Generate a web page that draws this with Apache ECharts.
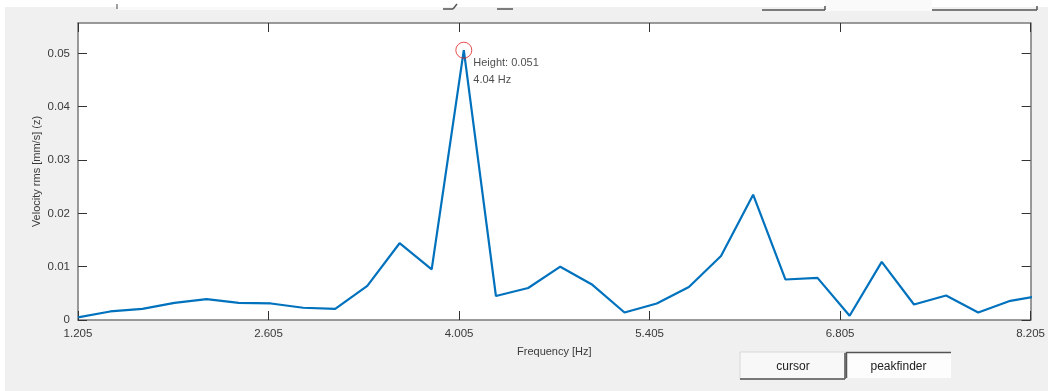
<!DOCTYPE html>
<html>
<head>
<meta charset="utf-8">
<script src="https://cdn.jsdelivr.net/npm/echarts@6/dist/echarts.min.js"></script>
<style>
html,body{margin:0;padding:0;background:#f0f0f0;}
#c{width:1048px;height:391px;}
</style>
</head>
<body>
<div id="c"></div>
<script>
// Data
const frequencies = [1.205,1.441,1.678,1.914,2.150,2.386,2.623,2.859,3.095,3.331,3.568,3.804,4.040,4.276,4.513,4.749,4.985,5.221,5.458,5.694,5.930,6.166,6.403,6.639,6.875,7.111,7.348,7.584,7.820,8.056,8.293];
const velocity = [0.0005,0.0016,0.0021,0.0032,0.0039,0.0032,0.0031,0.0023,0.0021,0.0064,0.0144,0.0095,0.0506,0.0045,0.0060,0.0100,0.0066,0.0014,0.0031,0.0062,0.0120,0.0235,0.0076,0.0079,0.0008,0.0109,0.0029,0.0046,0.0014,0.0036,0.0046];
const xTicks = [1.205, 2.605, 4.005, 5.405, 6.805, 8.205];
const yTicks = [0, 0.01, 0.02, 0.03, 0.04, 0.05];
const peak = {freq: 4.040, height: 0.0506, heightLabel: '0.051', freqLabel: '4.04'};
const xRange = [1.205, 8.205];
const yRange = [0, 0.0557];
const xName = 'Frequency [Hz]';
const yName = 'Velocity rms [mm/s] (z)';

const axisColor = '#7a7a7a';
const labelColor = '#3a3a3a';
const font = 'Liberation Sans, Arial, sans-serif';

const chart = echarts.init(document.getElementById('c'), null, {renderer: 'canvas'});
const lineData = frequencies.map((f, i) => [f, velocity[i]]);

function xAxisBase(pos, showLabels) {
  return {
    type: 'value', position: pos, min: xRange[0], max: xRange[1],
    axisLine: {show: true, onZero: false, lineStyle: {color: axisColor, width: 1.5}},
    axisTick: {show: true, inside: true, length: 9, customValues: xTicks, lineStyle: {color: '#333', width: 1}},
    axisLabel: {show: showLabels, customValues: xTicks, margin: 8, color: labelColor, fontSize: 11.5, fontFamily: font,
      formatter: v => Number(v).toFixed(3)},
    splitLine: {show: false}
  };
}
function yAxisBase(pos, showLabels) {
  return {
    type: 'value', position: pos, min: yRange[0], max: yRange[1],
    axisLine: {show: true, onZero: false, lineStyle: {color: axisColor, width: 1.5}},
    axisTick: {show: true, inside: true, length: 9, customValues: yTicks, lineStyle: {color: '#333', width: 1}},
    axisLabel: {show: showLabels, customValues: yTicks, margin: 8, color: labelColor, fontSize: 11.5, fontFamily: font,
      formatter: v => (v === 0 ? '0' : Number(v).toFixed(2))},
    splitLine: {show: false}
  };
}

const xb = xAxisBase('bottom', true);
xb.name = xName; xb.nameLocation = 'middle'; xb.nameGap = 26; xb.nameMoveOverlap = false;
xb.nameTextStyle = {color: labelColor, fontSize: 11, fontFamily: font};
const yl = yAxisBase('left', true);
yl.name = yName; yl.nameLocation = 'middle'; yl.nameGap = 36; yl.nameMoveOverlap = false;
yl.nameTextStyle = {color: labelColor, fontSize: 11, fontFamily: font};

const darkEdge = {stroke: '#555', lineWidth: 1.5};

chart.setOption({
  backgroundColor: '#f0f0f0',
  animation: false,
  grid: {left: 78, right: 17, top: 23, bottom: 71, show: true, backgroundColor: '#ffffff', borderWidth: 0},
  xAxis: [xb, xAxisBase('top', false)],
  yAxis: [yl, yAxisBase('right', false)],
  series: [
    {
      type: 'line', xAxisIndex: 0, yAxisIndex: 0, data: lineData, showSymbol: false, clip: true,
      lineStyle: {color: '#0072BD', width: 2.2}, itemStyle: {color: '#0072BD'}, z: 3
    },
    {
      type: 'scatter', xAxisIndex: 0, yAxisIndex: 0,
      data: [[peak.freq, peak.height]],
      symbol: 'circle', symbolSize: 16,
      itemStyle: {color: 'rgba(0,0,0,0)', borderColor: '#e02020', borderWidth: 1},
      label: {
        show: true, position: [18, 13], align: 'left', verticalAlign: 'top',
        formatter: 'Height: ' + peak.heightLabel + '\n' + peak.freqLabel + ' Hz',
        color: '#222', fontSize: 11, fontFamily: font, lineHeight: 17
      },
      z: 4
    }
  ],
  graphic: [
    {type: 'rect', shape: {x: 0, y: 0, width: 1048, height: 7}, style: {fill: '#ffffff'}, silent: true},
    {type: 'rect', shape: {x: 0, y: 0, width: 5, height: 391}, style: {fill: '#ffffff'}, silent: true},
    {type: 'rect', shape: {x: 117, y: 7, width: 326, height: 3}, style: {fill: '#f9f9f9'}, silent: true},
    {type: 'line', shape: {x1: 117, y1: 4, x2: 117, y2: 9}, style: {stroke: '#444', lineWidth: 1}, silent: true},
    {type: 'line', shape: {x1: 443, y1: 9, x2: 453, y2: 9}, style: darkEdge, silent: true},
    {type: 'line', shape: {x1: 453, y1: 9, x2: 457, y2: 4}, style: darkEdge, silent: true},
    {type: 'line', shape: {x1: 497, y1: 9, x2: 513, y2: 9}, style: darkEdge, silent: true},
    {type: 'rect', shape: {x: 825, y: 0, width: 107, height: 11}, style: {fill: '#fafafa'}, silent: true},
    {type: 'line', shape: {x1: 762, y1: 10, x2: 825, y2: 10}, style: darkEdge, silent: true},
    {type: 'line', shape: {x1: 825, y1: 6, x2: 825, y2: 10}, style: darkEdge, silent: true},
    {type: 'line', shape: {x1: 932, y1: 10, x2: 1037, y2: 10}, style: darkEdge, silent: true},
    {type: 'line', shape: {x1: 1037, y1: 6, x2: 1037, y2: 10}, style: darkEdge, silent: true},
    {type: 'rect', shape: {x: 740, y: 352, width: 105, height: 27}, style: {fill: '#f8f8f8', stroke: '#d8d8d8', lineWidth: 1}, silent: true},
    {type: 'line', shape: {x1: 740, y1: 379, x2: 845, y2: 379}, style: darkEdge, silent: true},
    {type: 'line', shape: {x1: 845, y1: 353, x2: 845, y2: 379}, style: darkEdge, silent: true},
    {type: 'rect', shape: {x: 846, y: 352, width: 105, height: 26}, style: {fill: '#fdfdfd'}, silent: true},
    {type: 'line', shape: {x1: 846, y1: 352.5, x2: 951, y2: 352.5}, style: darkEdge, silent: true},
    {type: 'line', shape: {x1: 846.5, y1: 352, x2: 846.5, y2: 378}, style: darkEdge, silent: true},
    {type: 'text', x: 793, y: 366.5, style: {text: 'cursor', fill: '#222', font: '12px Liberation Sans, Arial, sans-serif', textAlign: 'center', textVerticalAlign: 'middle'}, silent: true},
    {type: 'text', x: 898.5, y: 366.5, style: {text: 'peakfinder', fill: '#222', font: '12px Liberation Sans, Arial, sans-serif', textAlign: 'center', textVerticalAlign: 'middle'}, silent: true}
  ]
});
</script>
</body>
</html>
